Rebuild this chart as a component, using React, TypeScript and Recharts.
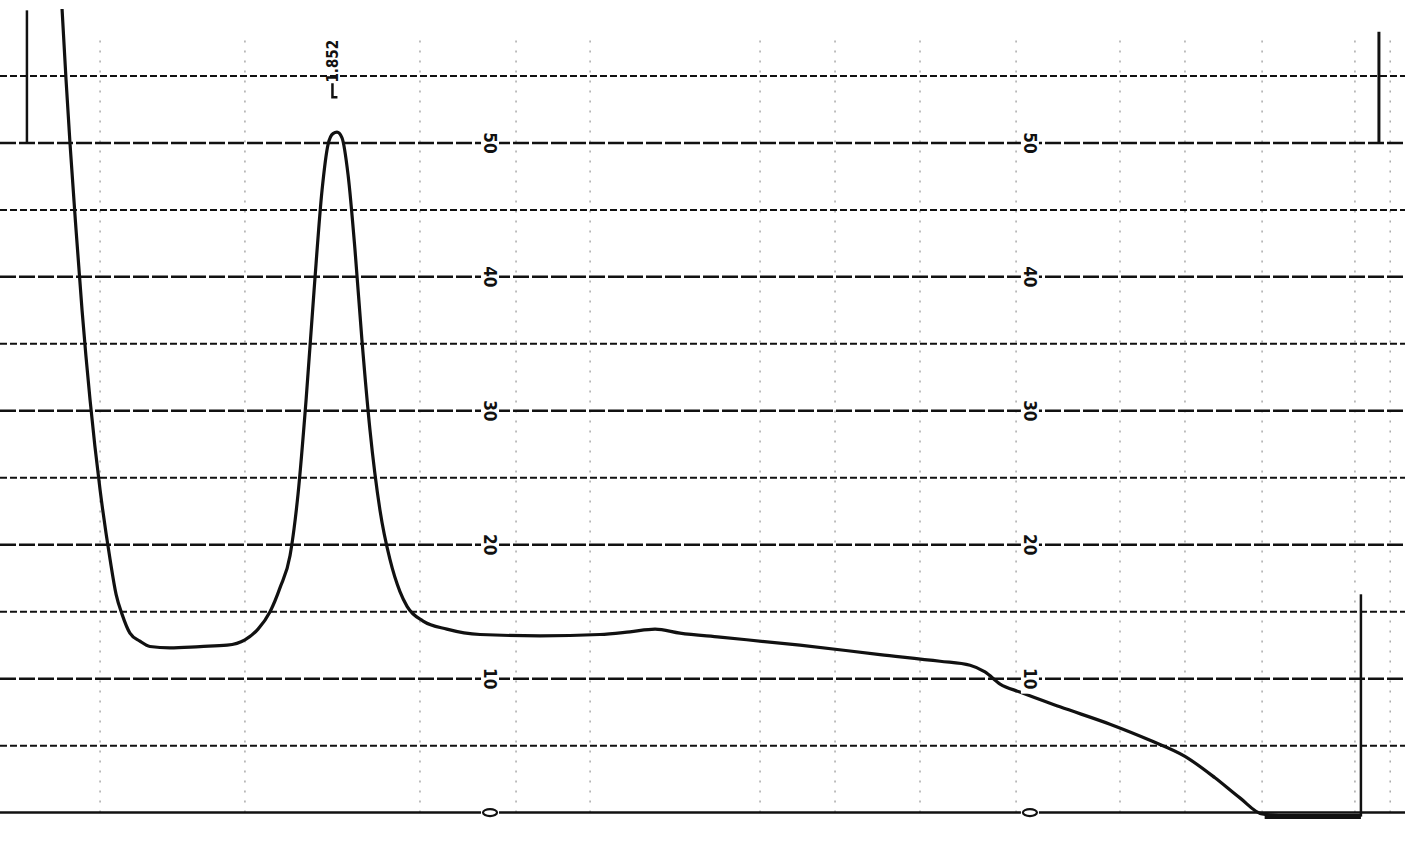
import React from 'react';
import { LineChart, Line, XAxis, YAxis, ReferenceLine, ReferenceDot } from 'recharts';

// time scale: peak at 1.852 min sits at px 337 of the strip
const K = 1.852 / 337;
const T_MAX = 1405 * K;

const times = [
  0.341, 0.363, 0.385, 0.418, 0.451, 0.495, 0.55, 0.605, 0.638, 0.671, 0.714, 0.769, 0.824, 0.934,
  1.099, 1.248, 1.346, 1.418, 1.484, 1.539, 1.594, 1.616, 1.638, 1.682, 1.726, 1.77, 1.803, 1.83, 1.852,
  1.879, 1.913, 1.951, 1.989, 2.033, 2.088, 2.143, 2.198, 2.237, 2.325, 2.456, 2.638, 2.968, 3.297,
  3.462, 3.6, 3.737, 3.957, 4.396, 4.836, 5.166, 5.331, 5.413, 5.496, 5.605, 5.825, 6.1, 6.32,
  6.512, 6.677, 6.814, 6.936, 7.144, 7.474,
];
const signal = [
  60.0, 54.7, 49.9, 43.5, 37.5, 30.8, 24.1, 18.9, 16.3, 14.8, 13.4, 12.8, 12.4, 12.3,
  12.4, 12.5, 12.9, 13.7, 15.0, 16.8, 19.2, 21.2, 23.8, 30.8, 39.0, 46.5, 49.9, 50.7, 50.8,
  50.4, 47.6, 42.0, 35.3, 28.6, 22.6, 18.9, 16.5, 15.4, 14.3, 13.7, 13.3, 13.2, 13.3,
  13.5, 13.7, 13.4, 13.1, 12.5, 11.8, 11.3, 11.0, 10.5, 9.6, 9.0, 7.9, 6.6, 5.4,
  4.2, 2.6, 1.1, -0.1, -0.3, -0.3,
];

const majorLines = [0, 10, 20, 30, 40, 50];
const minorLines = [5, 15, 25, 35, 45, 55];
const scaleLabels = ['0', '10', '20', '30', '40', '50'];
const labelColumns = [2.693, 5.66];
const paperVerticals = [0.55, 1.346, 2.308, 2.836, 3.243, 4.177, 4.589, 5.056, 5.584, 6.155, 6.512, 6.936, 7.446, 7.64];

const peakTime = 1.852;
const peakLabel = '1.852';

const data = times.map((t, i) => ({ t, v: signal[i] }));

const ScaleLabel = (props: any) => {
  const { cx, cy, text } = props;
  if (cx == null || cy == null) return null;
  const w = text === '0' ? 14 : 24;
  return (
    <g transform={`translate(${cx},${cy}) rotate(90)`}>
      <rect x={-w / 2 - 3} y={-9} width={w + 6} height={18} fill="#fff" />
      {text === '0' ? (
        <ellipse cx={0} cy={0} rx={3.5} ry={7} fill="none" stroke="#111" strokeWidth={2.2} />
      ) : (
        <text x={0} y={6} textAnchor="middle" fontFamily="DejaVu Sans Condensed, DejaVu Sans" fontWeight="bold" fontSize={17} fill="#111">
          {text}
        </text>
      )}
    </g>
  );
};

const PeakLabel = (props: any) => {
  const { cx, cy } = props;
  if (cx == null || cy == null) return null;
  return (
    <g>
      <text
        transform={`translate(${cx + 6},${cy - 4}) rotate(-90)`}
        textAnchor="middle"
        fontFamily="DejaVu Sans Condensed, DejaVu Sans"
        fontWeight="bold"
        fontSize={15}
        fill="#111"
      >
        {peakLabel}
      </text>
      <path d={`M${cx},${cy + 18} L${cx},${cy + 32} L${cx + 5},${cy + 32}`} stroke="#111" strokeWidth={2.5} fill="none" />
    </g>
  );
};

export default function App() {
  return (
    <div style={{ position: 'absolute', left: 0, top: 0, width: 1405, height: 863, background: '#fff' }}>
      <LineChart width={1405} height={863} data={data} margin={{ top: 9, right: 0, bottom: 37, left: 0 }}>
        <XAxis dataKey="t" type="number" domain={[0, T_MAX]} hide allowDataOverflow />
        <YAxis type="number" domain={[-1, 60]} hide allowDataOverflow />
        {paperVerticals.map((x) => (
          <ReferenceLine
            key={`pv${x}`}
            segment={[{ x, y: 0 }, { x, y: 58 }]}
            stroke="#555"
            strokeWidth={1.5}
            strokeDasharray="2 8"
            strokeOpacity={0.5}
          />
        ))}
        {minorLines.map((y) => (
          <ReferenceLine key={`mn${y}`} y={y} stroke="#111" strokeWidth={2} strokeDasharray="7 3" />
        ))}
        {majorLines.map((y) => (
          <ReferenceLine key={`mj${y}`} y={y} stroke="#111" strokeWidth={2.5} strokeDasharray={y === 0 ? undefined : '16 3'} />
        ))}
        <ReferenceLine segment={[{ x: 0.148, y: 59.9 }, { x: 0.148, y: 50 }]} stroke="#111" strokeWidth={2.5} />
        <ReferenceLine segment={[{ x: 7.578, y: 58.3 }, { x: 7.578, y: 50 }]} stroke="#111" strokeWidth={3} />
        <ReferenceLine segment={[{ x: 7.479, y: 16.3 }, { x: 7.479, y: -0.3 }]} stroke="#111" strokeWidth={2.5} />
        <ReferenceLine segment={[{ x: 6.95, y: -0.3 }, { x: 7.479, y: -0.3 }]} stroke="#111" strokeWidth={5} />
        <Line
          type="monotone"
          dataKey="v"
          stroke="#111"
          strokeWidth={3.2}
          dot={false}
          isAnimationActive={false}
        />
        {labelColumns.map((x) =>
          majorLines.map((y, i) => (
            <ReferenceDot
              key={`lb${x}-${y}`}
              x={x}
              y={y}
              r={1}
              shape={(p: any) => <ScaleLabel {...p} text={scaleLabels[i]} />}
            />
          ))
        )}
        <ReferenceDot x={peakTime - 0.025} y={55.8} r={1} shape={(p: any) => <PeakLabel {...p} />} />
      </LineChart>
    </div>
  );
}
